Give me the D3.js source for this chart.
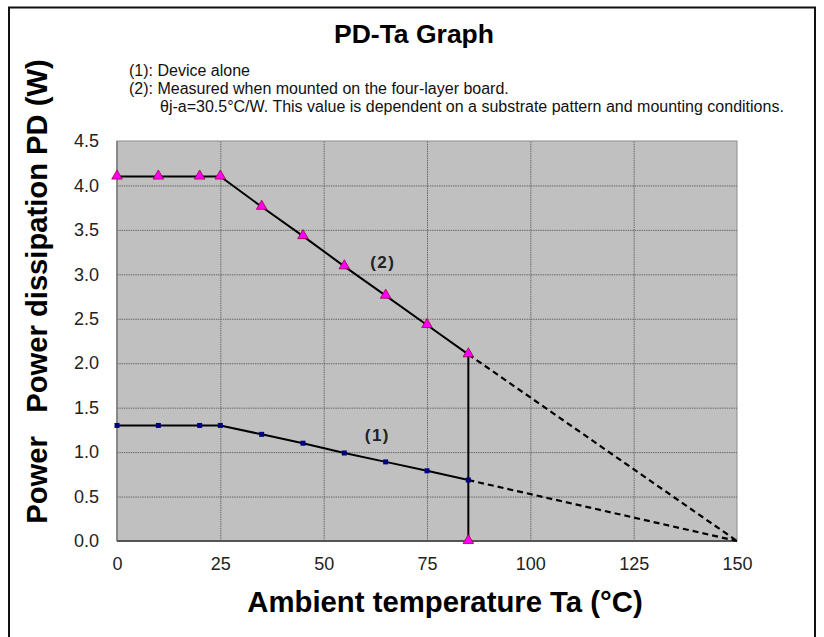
<!DOCTYPE html>
<html>
<head>
<meta charset="utf-8">
<script src="https://cdn.jsdelivr.net/npm/d3@7/dist/d3.min.js"></script>
<style>
  html, body { margin: 0; padding: 0; background: #fff; }
  svg { display: block; }
  text { font-family: "Liberation Sans", Arial, sans-serif; }
</style>
</head>
<body>
<svg id="chart" width="824" height="637"></svg>
<script>
// ---- data ----
const temps = [0, 10, 20, 25, 35, 45, 55, 65, 75, 85];
const pd2 = [4.1, 4.1, 4.1, 4.1, 3.76, 3.43, 3.09, 2.76, 2.43, 2.10]; // (2) four-layer board
const pd1 = [1.3, 1.3, 1.3, 1.3, 1.2, 1.1, 0.99, 0.89, 0.79, 0.686]; // (1) device alone
const extendTemps = [85, 150];
const ext2 = [2.10, 0];
const ext1 = [0.686, 0];
const dropTemp = 85;
const xTicks = [0, 25, 50, 75, 100, 125, 150];
const yTicks = [0, 0.5, 1.0, 1.5, 2.0, 2.5, 3.0, 3.5, 4.0, 4.5];
const titleText = "PD-Ta Graph";
const notes = [
  "(1): Device alone",
  "(2): Measured when mounted on the four-layer board.",
  "θj-a=30.5°C/W. This value is dependent on a substrate pattern and mounting conditions."
];
const xLabel = "Ambient temperature Ta (°C)";
const yLabel = "Power dissipation PD (W)";
const yLabelExtra = "Power";
const seriesLabels = [{t: "(2)", x: 64.3, y: 3.12}, {t: "(1)", x: 63, y: 1.17}];

// ---- layout ----
const svg = d3.select("#chart");
const x = d3.scaleLinear().domain([0, 150]).range([117, 737]);
const y = d3.scaleLinear().domain([0, 4.5]).range([541, 141]);

// frame
svg.append("path")
  .attr("d", "M9,637 L9,7.5 L815,7.5 L815,637")
  .attr("fill", "none").attr("stroke", "#111").attr("stroke-width", 2);

// plot background
svg.append("rect")
  .attr("x", x(0)).attr("y", y(4.5))
  .attr("width", x(150) - x(0)).attr("height", y(0) - y(4.5))
  .attr("fill", "#c0c0c0").attr("stroke", "#8c8c8c").attr("stroke-width", 1);

// grid
const gridX = svg.append("g").attr("transform", `translate(0,${y(0)})`)
  .call(d3.axisBottom(x).tickValues(xTicks.filter(d => d > 0 && d < 150))
    .tickSize(-(y(0) - y(4.5))).tickFormat(""));
gridX.select(".domain").remove();
gridX.selectAll("line").attr("stroke", "#6a6a6a").attr("stroke-width", 1)
  .attr("stroke-dasharray", "1.5,0.8");

const gridY = svg.append("g").attr("transform", `translate(${x(0)},0)`)
  .call(d3.axisLeft(y).tickValues(yTicks.filter(d => d > 0 && d < 4.5))
    .tickSize(-(x(150) - x(0))).tickFormat(""));
gridY.select(".domain").remove();
gridY.selectAll("line").attr("stroke", "#6a6a6a").attr("stroke-width", 1)
  .attr("stroke-dasharray", "1.5,0.8");

// axis lines
svg.append("line").attr("x1", x(0)).attr("x2", x(0)).attr("y1", y(4.5)).attr("y2", y(0))
  .attr("stroke", "#7a7a7a").attr("stroke-width", 1.5);
svg.append("line").attr("x1", x(0)).attr("x2", x(150)).attr("y1", y(0)).attr("y2", y(0))
  .attr("stroke", "#555").attr("stroke-width", 2);

// tick labels
const axY = svg.append("g").attr("transform", `translate(${x(0) - 18},0)`)
  .call(d3.axisLeft(y).tickValues(yTicks).tickSize(0).tickPadding(0).tickFormat(d3.format(".1f")));
axY.select(".domain").remove();
axY.selectAll("text").attr("font-size", 18).attr("fill", "#222")
  .attr("font-family", "Liberation Sans, Arial, sans-serif");

const axX = svg.append("g").attr("transform", `translate(0,${y(0) + 16})`)
  .call(d3.axisBottom(x).tickValues(xTicks).tickSize(0).tickPadding(0).tickFormat(d3.format("d")));
axX.select(".domain").remove();
axX.selectAll("text").attr("font-size", 18).attr("fill", "#222")
  .attr("font-family", "Liberation Sans, Arial, sans-serif");

// lines
const line = d3.line().x(d => x(d[0])).y(d => y(d[1]));
svg.append("path").datum(temps.map((t, i) => [t, pd2[i]])).attr("d", line)
  .attr("fill", "none").attr("stroke", "#000").attr("stroke-width", 2);
svg.append("path").datum(temps.map((t, i) => [t, pd1[i]])).attr("d", line)
  .attr("fill", "none").attr("stroke", "#000").attr("stroke-width", 2);
svg.append("path").datum(extendTemps.map((t, i) => [t, ext2[i]])).attr("d", line)
  .attr("fill", "none").attr("stroke", "#000").attr("stroke-width", 2.2).attr("stroke-dasharray", "6,4");
svg.append("path").datum(extendTemps.map((t, i) => [t, ext1[i]])).attr("d", line)
  .attr("fill", "none").attr("stroke", "#000").attr("stroke-width", 2.2).attr("stroke-dasharray", "6,4");
// drop line at 85
svg.append("line").attr("x1", x(dropTemp)).attr("x2", x(dropTemp))
  .attr("y1", y(ext2[0])).attr("y2", y(0))
  .attr("stroke", "#000").attr("stroke-width", 2);

// markers (1): small navy squares
svg.append("g").selectAll("rect").data(temps.map((t, i) => [t, pd1[i]])).join("rect")
  .attr("x", d => x(d[0]) - 2.5).attr("y", d => y(d[1]) - 2.5)
  .attr("width", 5).attr("height", 5).attr("fill", "#000080");

// markers (2): magenta triangles
const tri = d3.symbol().type(d3.symbolTriangle).size(48);
const triPts = temps.map((t, i) => [t, pd2[i]]).concat([[dropTemp, 0]]);
svg.append("g").selectAll("path").data(triPts).join("path")
  .attr("d", tri)
  .attr("transform", d => `translate(${x(d[0])},${y(d[1]) - 0.5})`)
  .attr("fill", "#ff00ff").attr("stroke", "#a0003c").attr("stroke-width", 0.8);

// series labels
svg.append("g").selectAll("text").data(seriesLabels).join("text")
  .attr("x", d => x(d.x)).attr("y", d => y(d.y))
  .attr("text-anchor", "middle").attr("dominant-baseline", "middle")
  .attr("font-size", 17).attr("font-weight", "bold").attr("fill", "#222")
  .attr("letter-spacing", 1.5)
  .text(d => d.t);

// title
svg.append("text").attr("x", 414).attr("y", 43).attr("text-anchor", "middle")
  .attr("font-size", 26.5).attr("font-weight", "bold").attr("fill", "#000").text(titleText);

// notes
const noteX = [129, 129, 160];
const noteY = [76, 94, 111.5];
svg.append("g").selectAll("text").data(notes).join("text")
  .attr("x", (d, i) => noteX[i]).attr("y", (d, i) => noteY[i])
  .attr("font-size", 16).attr("fill", "#111").text(d => d);

// axis titles
svg.append("text").attr("x", 445).attr("y", 612).attr("text-anchor", "middle")
  .attr("font-size", 29.3).attr("font-weight", "bold").attr("fill", "#000").text(xLabel);

svg.append("text").attr("transform", "translate(47,236) rotate(-90)")
  .attr("text-anchor", "middle")
  .attr("font-size", 29.2).attr("font-weight", "bold").attr("fill", "#000").text(yLabel);
svg.append("text").attr("transform", "translate(47,480) rotate(-90)")
  .attr("text-anchor", "middle")
  .attr("font-size", 29.2).attr("font-weight", "bold").attr("fill", "#000").text(yLabelExtra);
</script>
</body>
</html>
